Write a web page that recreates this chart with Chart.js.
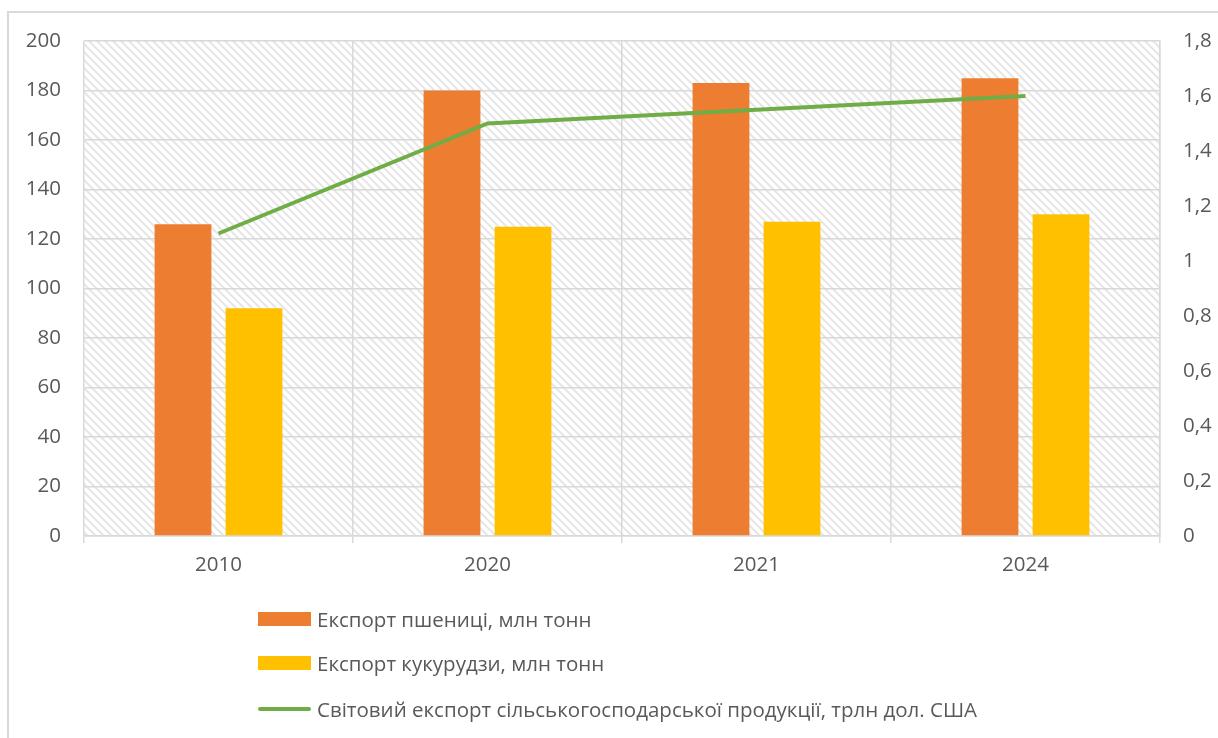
<!DOCTYPE html>
<html>
<head>
<meta charset="utf-8">
<script src="https://cdn.jsdelivr.net/npm/chart.js@4.4.1/dist/chart.umd.min.js"></script>
<style>
  html, body { margin: 0; padding: 0; background: #fff; overflow: hidden; }
  #frame {
    position: absolute; left: 7px; top: 11px; width: 1240px; height: 760px;
    border: 2px solid #d9d9d9; box-sizing: border-box;
  }
  #wrap { position: absolute; left: 0; top: 0; width: 1218px; height: 600px; }
  #legend {
    position: absolute; left: 258px; top: 597px;
    font-family: "Open Sans", sans-serif; font-size: 20.5px; color: #595959;
  }
  .item { display: flex; align-items: center; height: 44px; }
  .sw { width: 53px; margin-right: 6px; }
</style>
</head>
<body>
<div id="frame"></div>
<div id="wrap"><canvas id="grafic"></canvas></div>
<div id="legend"></div>
<script>
//Dades
const anys = ["2010", "2020", "2021", "2024"];
const pshenytsia = [126, 180, 183, 185];
const kukurudza = [92, 125, 127, 130];
const svitovyi = [1.1, 1.5, 1.55, 1.6];
const etiquetes = [
  "Експорт пшениці, млн тонн",
  "Експорт кукурудзи, млн тонн",
  "Світовий експорт сільськогосподарської продукції, трлн дол. США"
];

//Ratllat de fons
function ratllat() {
  let c = document.createElement("canvas");
  c.width = 8; c.height = 8;
  let ctx = c.getContext("2d");
  ctx.strokeStyle = "#e6e6e6";
  ctx.lineWidth = 2;
  ctx.beginPath();
  ctx.moveTo(-2, -2); ctx.lineTo(10, 10);
  ctx.moveTo(-6, 2); ctx.lineTo(2, 10);
  ctx.moveTo(6, -2); ctx.lineTo(10, 2);
  ctx.stroke();
  return ctx.createPattern(c, "repeat");
}

const fons = {
  id: "fons",
  beforeDraw(chart) {
    let a = chart.chartArea;
    let ctx = chart.ctx;
    ctx.save();
    ctx.fillStyle = ratllat();
    ctx.fillRect(a.left, a.top, a.right - a.left, a.bottom - a.top);
    ctx.restore();
  }
};

let tipus = { family: "'Open Sans', sans-serif", size: 20.5 };

let node = document.querySelector("#grafic");
let grafic = new Chart(node, {
  data: {
    labels: anys,
    datasets: [
      { type: "line", label: etiquetes[2], data: svitovyi, yAxisID: "y2",
        borderColor: "#70AD47", backgroundColor: "#70AD47", borderWidth: 4,
        pointRadius: 0, tension: 0, order: 0 },
      { type: "bar", label: etiquetes[0], data: pshenytsia, yAxisID: "y",
        backgroundColor: "#ED7D31", categoryPercentage: 0.528, barPercentage: 0.8, order: 1 },
      { type: "bar", label: etiquetes[1], data: kukurudza, yAxisID: "y",
        backgroundColor: "#FFC000", categoryPercentage: 0.528, barPercentage: 0.8, order: 1 }
    ]
  },
  options: {
    responsive: true,
    maintainAspectRatio: false,
    animation: false,
    layout: { padding: { top: 41, left: 0, right: 0, bottom: 0 } },
    plugins: { legend: { display: false }, tooltip: { enabled: false } },
    scales: {
      x: {
        offset: true,
        grid: { offset: true, color: "#d9d9d9", lineWidth: 1.5, drawTicks: true, tickLength: 7 },
        border: { color: "#d9d9d9", width: 1.5 },
        ticks: { color: "#595959", font: tipus, padding: 10 },
        afterFit(s) { s.height = 64; }
      },
      y: {
        position: "left", min: 0, max: 200,
        ticks: { stepSize: 20, color: "#595959", font: tipus, padding: 23 },
        grid: { color: "#d9d9d9", lineWidth: 1.5, drawTicks: false },
        border: { display: false },
        afterFit(s) { s.width = 84; }
      },
      y2: {
        position: "right", min: 0, max: 1.8,
        ticks: { stepSize: 0.2, color: "#595959", font: tipus, padding: 23,
          callback: v => Number(v.toFixed(1)).toString().replace(".", ",") },
        grid: { display: false, drawTicks: false },
        border: { color: "#d9d9d9", width: 1.5 },
        afterFit(s) { s.width = 58; }
      }
    }
  },
  plugins: [fons]
});

//Llegenda
let llegenda = document.querySelector("#legend");
[1, 2, 0].forEach(i => {
  let d = grafic.data.datasets[i];
  let fila = document.createElement("div");
  fila.className = "item";
  let sw = document.createElement("div");
  sw.className = "sw";
  if (d.type === "line") {
    sw.style.height = "4px"; sw.style.borderRadius = "2px"; sw.style.background = d.borderColor;
    fila.style.height = "47px";
  } else {
    sw.style.height = "14px"; sw.style.background = d.backgroundColor;
  }
  let t = document.createElement("span");
  t.textContent = d.label;
  fila.appendChild(sw); fila.appendChild(t);
  llegenda.appendChild(fila);
});
</script>
</body>
</html>
